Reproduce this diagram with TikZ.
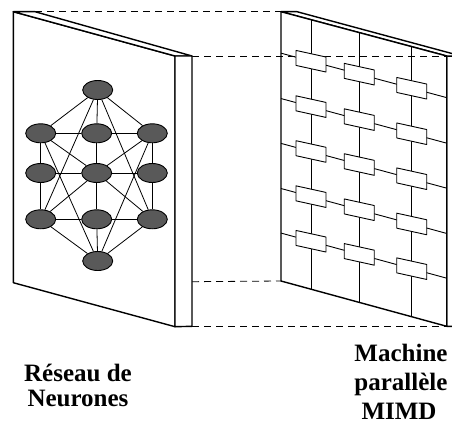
\documentclass[tikz,border=0pt]{standalone}
\usepackage{fontspec}
\setmainfont{Liberation Serif}
\usetikzlibrary{shapes.geometric,calc}
\begin{document}
\begin{tikzpicture}[x=1pt,y=-1pt,
  neuron/.style={ellipse,draw=black,line width=0.9pt,fill=black!65,minimum width=30pt,minimum height=19pt,inner sep=0pt},
  syn/.style={line width=0.8pt},
  panel/.style={line width=1.4pt,line join=round},
  gridline/.style={line width=0.9pt},
  proc/.style={draw=black,line width=0.9pt,fill=white,line join=round},
  proj/.style={line width=0.8pt,dash pattern=on 7pt off 5pt},
  lbl/.style={font=\fontsize{25}{25}\selectfont\bfseries,anchor=base,inner sep=0pt}]
\useasboundingbox (0,0) rectangle (452,425);
\clip (0,0) rectangle (452,425);
% ---- left panel corners
\coordinate (LTL) at (13.3,11.7);
\coordinate (LTR) at (175,56);
\coordinate (LBL) at (13.3,282.7);
\coordinate (LBR) at (175,326.7);
\coordinate (LbTL) at (35,11.7);
\coordinate (LbTR) at (192,56);
\coordinate (LbBR) at (192,326.3);
\coordinate (LbM) at (192,281.7);
% ---- right panel corners
\coordinate (RTL) at (281,11.7);
\coordinate (RTR) at (446.7,56);
\coordinate (RBL) at (281,281);
\coordinate (RBR) at (446.7,326.3);
\coordinate (RbTL) at (297,11.7);
\coordinate (RbTR) at (463,56.5);
\coordinate (RbBR) at (463,326.3);
% ---- right panel faces
\draw[panel,fill=white] (RTR) -- (RbTR) -- (RbBR) -- (RBR) -- cycle;
\draw[panel,fill=white] (RTL) -- (RbTL) -- (RbTR) -- (RTR) -- cycle;
\fill[white] (RTL) -- (RTR) -- (RBR) -- (RBL) -- cycle;
% ---- projection lines
\draw[proj] (LbTL) -- (RTL);
\draw[proj] (LbTR) -- (RTR);
\draw[proj] (LbM) -- (RBL);
\draw[proj] (LbBR) -- (RBR);
% ---- grid of the MIMD machine
\foreach \i/\t in {1/0.154,2/0.3225,3/0.489,4/0.6565,5/0.822}{
  \coordinate (RL\i) at ($(RTL)!\t!(RBL)$);
  \coordinate (RR\i) at ($(RTR)!\t!(RBR)$);
}
\foreach \j/\s in {1/0.181,2/0.4725,3/0.789}{
  \coordinate (CT\j) at ($(RTL)!\s!(RTR)$);
  \coordinate (CB\j) at ($(RBL)!\s!(RBR)$);
}
\foreach \i in {1,...,5}{ \draw[gridline] (RL\i) -- (RR\i); }
\foreach \j in {1,2,3}{ \draw[gridline] (CT\j) -- (CB\j); }
\foreach \i in {1,...,5}{
  \foreach \s in {0.181,0.4725,0.789}{
    \draw[proc] ($(RL\i)!\s!(RR\i)+(-15,-10.8)$) -- ++(30,6.6) -- ++(0,15) -- ++(-30,-6.6) -- cycle;
  }
}
\draw[panel] (RTL) -- (RTR) -- (RBR) -- (RBL) -- cycle;
% ---- left panel
\draw[panel,fill=white] (LTL) -- (LTR) -- (LBR) -- (LBL) -- cycle;
\draw[panel,fill=white] (LTL) -- (LbTL) -- (LbTR) -- (LTR) -- cycle;
\draw[panel,fill=white] (LTR) -- (LbTR) -- (LbBR) -- (LBR) -- cycle;
% ---- neural network
\node[neuron] (T)  at (97.7,90) {};
\node[neuron] (A1) at (40.7,133.3) {};
\node[neuron] (A2) at (96.7,133.3) {};
\node[neuron] (A3) at (152.3,133.3) {};
\node[neuron] (B1) at (40.7,173) {};
\node[neuron] (B2) at (96.7,173) {};
\node[neuron] (B3) at (152.3,173) {};
\node[neuron] (C1) at (40.7,219.3) {};
\node[neuron] (C2) at (96.7,219.3) {};
\node[neuron] (C3) at (152.3,219.3) {};
\node[neuron] (Bo) at (97.7,261) {};
\begin{scope}[syn]
\draw (T) -- (A1); \draw (T) -- (A2); \draw (T) -- (A3);
\draw (T) -- (C1); \draw (T) -- (C3);
\draw (Bo) -- (C1); \draw (Bo) -- (C2); \draw (Bo) -- (C3);
\draw (Bo) -- (A1); \draw (Bo) -- (A3);
\draw (A1) -- (A2); \draw (A2) -- (A3);
\draw (B1) -- (B2); \draw (B2) -- (B3);
\draw (C1) -- (C2); \draw (C2) -- (C3);
\draw (A1) -- (B1); \draw (B1) -- (C1);
\draw (A2) -- (B2); \draw (B2) -- (C2);
\draw (A3) -- (B3); \draw (B3) -- (C3);
\draw (B2) -- (A1); \draw (B2) -- (A3);
\draw (B2) -- (C1); \draw (B2) -- (C3);
\end{scope}
% ---- labels
\node[lbl] (lblL1) at (78,381.7) {Réseau de};
\node[lbl] (lblL2) at (78,406.7) {Neurones};
\node[lbl] (lblR1) at (401,361.5) {Machine};
\node[lbl] (lblR2) at (401,390.5) {parallèle};
\node[lbl] (lblR3) at (399,419) {MIMD};
\end{tikzpicture}
\end{document}
